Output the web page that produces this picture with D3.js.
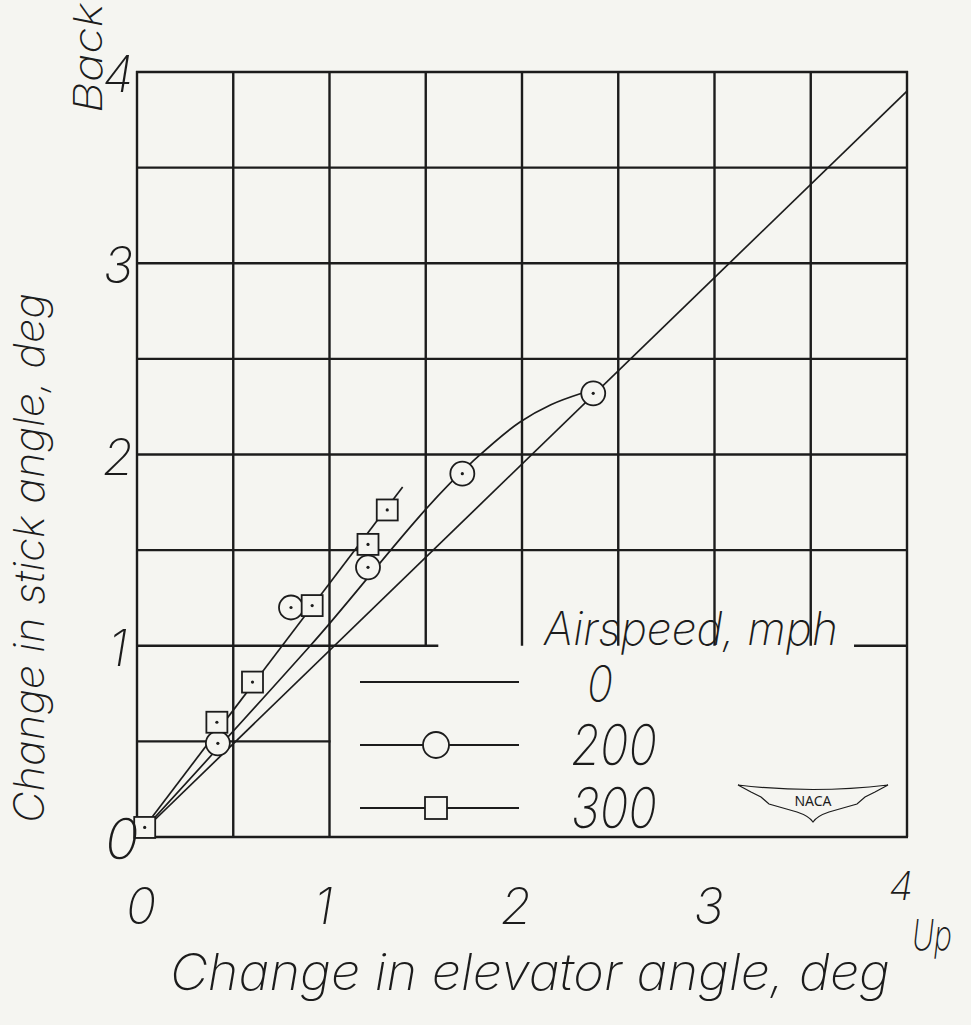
<!doctype html>
<html lang="en">
<head>
  <meta charset="utf-8">
  <title>Stick angle vs elevator angle</title>
  <script src="https://cdnjs.cloudflare.com/ajax/libs/d3/7.8.5/d3.min.js"></script>
  <style>
    body { margin: 0; background: #f5f5f1; }
    text { font-family: Inter, "DejaVu Sans", sans-serif; font-style: italic; font-weight: 200; fill: #1c1c1c; }
  </style>
</head>
<body>
<div id="chart"></div>

<script>

// axis ticks
const xTicks = [0, 1, 2, 3, 4]
const yTicks = [0, 1, 2, 3, 4]
const gridSteps = [0, 0.5, 1, 1.5, 2, 2.5, 3, 3.5, 4]

// legend entries (airspeed, mph)
const speeds = ["0", "200", "300"]

// 0 mph faired line
const line0 = [[0, 0], [4, 3.9]]

// 200 mph test points and faired curve
const pts200 = [[0.42, 0.49], [0.8, 1.2], [1.2, 1.41], [1.69, 1.9], [2.37, 2.32]]
const line200 = [[0, 0], [0.9, 1.0], [1.74, 1.96], [1.99, 2.17], [2.15, 2.26], [2.31, 2.32]]

// 300 mph test points and faired line
const pts300 = [[0.04, 0.05], [0.415, 0.6], [0.6, 0.81], [0.91, 1.21], [1.2, 1.53], [1.3, 1.71]]
const line300 = [[0, 0], [1.38, 1.83]]

const W = 971, H = 1025
const ink = "#1c1c1c", paper = "#f5f5f1"

const svg = d3.select("#chart").append("svg")
  .attr("width", W)
  .attr("height", H)

const x = d3.scaleLinear().domain([0, 4]).range([137, 907])
const y = d3.scaleLinear().domain([0, 4]).range([837, 72])

// grid - the lower right block is left open for the legend
const grid = svg.append("g").attr("stroke", ink).attr("stroke-width", 2.4)

gridSteps.forEach(v => {
  let bottom = (v > 1 && v < 4) ? 1 : 0
  grid.append("line")
    .attr("x1", x(v)).attr("x2", x(v))
    .attr("y1", y(bottom)).attr("y2", y(4) - 1)
})

gridSteps.forEach(v => {
  let segs = [[0, 4]]
  if (v == 0.5) segs = [[0, 1]]
  if (v == 1) segs = [[0, 1.56], [3.73, 4]]
  segs.forEach(s => grid.append("line")
    .attr("x1", x(s[0]) - 1).attr("x2", x(s[1]) + 1)
    .attr("y1", y(v)).attr("y2", y(v)))
})

// faired curves
const path = d3.line().x(d => x(d[0])).y(d => y(d[1]))

const curves = svg.append("g").attr("fill", "none").attr("stroke", ink).attr("stroke-width", 1.7)
curves.append("path").attr("d", path(line0))
curves.append("path").attr("d", path.curve(d3.curveMonotoneX)(line200))
curves.append("path").attr("d", path.curve(d3.curveLinear)(line300))

// markers
const marks = svg.append("g").attr("stroke", ink).attr("stroke-width", 1.8).attr("fill", paper)

marks.selectAll("circle.p200").data(pts200).join("circle")
  .attr("class", "p200")
  .attr("cx", d => x(d[0])).attr("cy", d => y(d[1])).attr("r", 12)

const sq = 21
marks.selectAll("rect.p300").data(pts300).join("rect")
  .attr("class", "p300")
  .attr("x", d => x(d[0]) - sq / 2).attr("y", d => y(d[1]) - sq / 2)
  .attr("width", sq).attr("height", sq)

svg.append("g").attr("fill", ink)
  .selectAll("circle").data(pts200.concat(pts300)).join("circle")
  .attr("cx", d => x(d[0])).attr("cy", d => y(d[1])).attr("r", 1.6)

// tick labels
svg.append("g").selectAll("text").data(xTicks).join("text")
  .attr("x", d => x(d) + (d == 0 ? 4 : -6))
  .attr("y", d => d == 4 ? 900 : 924)
  .attr("text-anchor", "middle")
  .attr("font-size", d => d == 4 ? 40 : 50)
  .text(d => d)

svg.append("g").selectAll("text").data(yTicks).join("text")
  .attr("x", d => d == 0 ? 122 : 118)
  .attr("y", d => y(d) + (d == 0 ? 22 : 20))
  .attr("text-anchor", "middle")
  .attr("font-size", d => d == 0 ? 56 : 50)
  .text(d => d)

svg.append("text")
  .attr("x", 932).attr("y", 950)
  .attr("text-anchor", "middle")
  .attr("font-size", 42)
  .attr("textLength", 40).attr("lengthAdjust", "spacingAndGlyphs")
  .text("Up")

svg.append("text")
  .attr("transform", "translate(102,58) rotate(-90)")
  .attr("text-anchor", "middle")
  .attr("font-size", 40)
  .attr("textLength", 110).attr("lengthAdjust", "spacingAndGlyphs")
  .text("Back")

// axis titles
svg.append("text")
  .attr("x", 530).attr("y", 990)
  .attr("text-anchor", "middle")
  .attr("font-size", 50)
  .attr("textLength", 720).attr("lengthAdjust", "spacingAndGlyphs")
  .text("Change in elevator angle, deg")

svg.append("text")
  .attr("transform", "translate(44,558) rotate(-90)")
  .attr("text-anchor", "middle")
  .attr("font-size", 42)
  .attr("textLength", 530).attr("lengthAdjust", "spacingAndGlyphs")
  .text("Change in stick angle, deg")

// legend
const legend = svg.append("g")

legend.append("text")
  .attr("x", 544).attr("y", 645)
  .attr("font-size", 46)
  .attr("textLength", 294).attr("lengthAdjust", "spacingAndGlyphs")
  .text("Airspeed, mph")

const rowY = [682, 745, 808]
speeds.forEach((s, i) => {
  let ly = rowY[i]
  legend.append("line")
    .attr("x1", 360).attr("x2", 519).attr("y1", ly).attr("y2", ly)
    .attr("stroke", ink).attr("stroke-width", 1.8)
  if (i == 1) legend.append("circle")
    .attr("cx", 436).attr("cy", ly).attr("r", 13)
    .attr("fill", paper).attr("stroke", ink).attr("stroke-width", 1.8)
  if (i == 2) legend.append("rect")
    .attr("x", 436 - 11).attr("y", ly - 11).attr("width", 22).attr("height", 22)
    .attr("fill", paper).attr("stroke", ink).attr("stroke-width", 1.8)
  legend.append("text")
    .attr("x", i == 0 ? 600 : 614).attr("y", ly + 20)
    .attr("text-anchor", "middle")
    .attr("font-size", i == 0 ? 50 : 56)
    .attr("textLength", i == 0 ? 26 : 86).attr("lengthAdjust", "spacingAndGlyphs")
    .text(s)
})

// NACA wings
const logo = svg.append("g").attr("transform", "translate(813,800)")
logo.append("path")
  .attr("d", "M-75,-15 Q0,-6 75,-15 L62,-8 L52,-3 L44,4 L30,8 L16,12 Q4,16 0,22 Q-4,16 -16,12 L-30,8 L-44,4 L-52,-3 L-62,-8 Z")
  .attr("fill", "none").attr("stroke", ink).attr("stroke-width", 1.2)
logo.append("text")
  .attr("x", 0).attr("y", 6)
  .attr("text-anchor", "middle")
  .attr("font-size", 14)
  .style("font-style", "normal").style("font-weight", 400)
  .style("font-family", "'Noto Sans', sans-serif")
  .text("NACA")

</script>
</body>
</html>
